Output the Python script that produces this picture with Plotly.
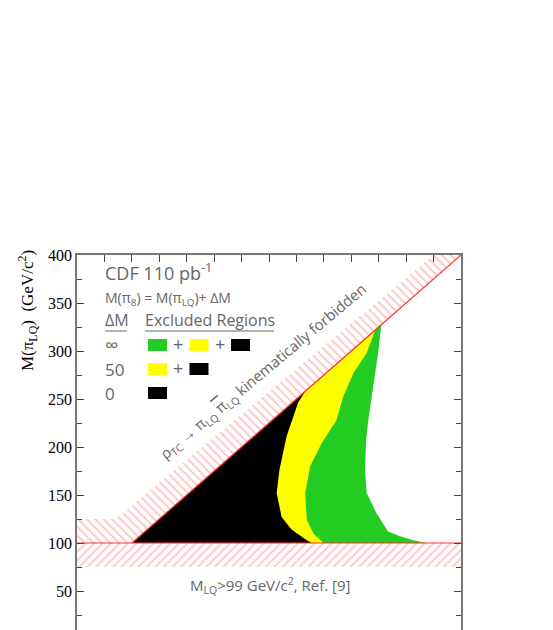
import plotly.graph_objects as go

# axis limits and ticks
x_range = [100, 800]
y_range = [9.4, 400]
y_tick_vals = [50, 100, 150, 200, 250, 300, 350, 400]
y_minor_vals = [25, 75, 125, 175, 225, 275, 325, 375]

# kinematic limit M(pi_LQ) = M(rho_TC) / 2 and the forbidden band above it
kin_x = [200, 800]
kin_y = [100, 400]
band_up_x = [100, 200, 800, 750, 170, 100, 100]
band_up_y = [100, 100, 400, 400, 125, 125, 100]

# Ref. [9] limit band
band_lo_x = [100, 800, 800, 100, 100]
band_lo_y = [75, 75, 100, 100, 75]
limit_x = [100, 800]
limit_y = [100, 100]

# excluded regions, dM = infinity (green), 50 (yellow), 0 (black)
green_x = [200, 655, 649, 640, 631, 627, 625, 628, 646, 667, 689, 713, 737, 200]
green_y = [100, 328, 298, 263, 228, 207, 176, 152, 131, 112, 107, 103, 100, 100]
yellow_x = [200, 655, 646, 628, 604, 585, 573, 546, 525, 516, 519, 531, 549, 200]
yellow_y = [100, 328, 325, 298, 277, 252, 228, 204, 180, 152, 124, 110, 100, 100]
black_x = [200, 516, 503, 482, 469, 464, 473, 491, 519, 528, 200]
black_y = [100, 258, 246, 211, 176, 152, 127, 114, 103, 100, 100]

legend_rows = ['\u221e', '50', '0']
legend_colors = [['#22cc22', '#ffff00', '#000000'],
                 ['#ffff00', '#000000'],
                 ['#000000']]

GREY = '#666666'
FONT = 'Open Sans'
HATCH = {'fgcolor': 'rgba(255,60,60,0.65)', 'bgcolor': 'rgba(0,0,0,0)', 'size': 6, 'solidity': 0.28}

# page body has an 8px margin, so positions below are in page pixels
OFF = 8


def px_to_x(px):
    return x_range[0] + (px - 77) * (x_range[1] - x_range[0]) / 384


def py_to_y(py):
    return y_range[1] - (py - 255) * (y_range[1] - y_range[0]) / 375


fig = go.Figure()

fig.add_trace(go.Scatter(x=band_up_x, y=band_up_y, mode='lines', line={'width': 0},
                         fill='toself', fillcolor='rgba(0,0,0,0)',
                         fillpattern=dict(HATCH, shape='\\')))
fig.add_trace(go.Scatter(x=band_lo_x, y=band_lo_y, mode='lines', line={'width': 0},
                         fill='toself', fillcolor='rgba(0,0,0,0)',
                         fillpattern=dict(HATCH, shape='/')))

for xs, ys, col in [(green_x, green_y, '#22cc22'),
                    (yellow_x, yellow_y, '#ffff00'),
                    (black_x, black_y, '#000000')]:
    fig.add_trace(go.Scatter(x=xs, y=ys, mode='lines', line={'width': 0},
                             fill='toself', fillcolor=col))

fig.add_trace(go.Scatter(x=kin_x, y=kin_y, mode='lines', line={'color': '#ff3030', 'width': 1.2}))
fig.add_trace(go.Scatter(x=limit_x, y=limit_y, mode='lines', line={'color': '#ff3030', 'width': 1.2}))

annotations = []
shapes = []


def add_text(text, px, py, size=14, xanchor='left', angle=0, color=GREY, family=FONT):
    annotations.append(dict(x=px_to_x(px), y=py_to_y(py), xref='x', yref='y', text=text,
                            showarrow=False, xanchor=xanchor, yanchor='middle', textangle=angle,
                            font={'family': family, 'size': size, 'color': color}))


add_text('CDF 110 pb<sup>-1</sup>', 103, 272, size=18)
add_text('M(\u03c0<sub>8</sub>) = M(\u03c0<sub>LQ</sub>)+ \u0394M', 103, 298, size=14)
add_text('\u0394M', 103, 320, size=16)
add_text('Excluded Regions', 143, 320, size=16)
for y0, x0, x1 in [(331, 105, 127), (331, 145, 274)]:
    shapes.append(dict(type='line', xref='x', yref='y', x0=px_to_x(x0), x1=px_to_x(x1),
                       y0=py_to_y(y0), y1=py_to_y(y0), line={'color': GREY, 'width': 1}))

for i, (label, cols) in enumerate(zip(legend_rows, legend_colors)):
    cy = 345 + 24 * i
    add_text(label, 103, cy, size=19 if i == 0 else 17)
    for j, col in enumerate(cols):
        x0 = 148 + 41.5 * j
        shapes.append(dict(type='rect', xref='x', yref='y', x0=px_to_x(x0), x1=px_to_x(x0 + 19),
                           y0=py_to_y(cy + 6), y1=py_to_y(cy - 6), fillcolor=col,
                           line={'width': 0}))
        if j < len(cols) - 1:
            add_text('+', x0 + 30, cy - 1, size=18, xanchor='center')

add_text('\u03c1<sub>TC</sub> \u2192 \u03c0<sub>LQ</sub> '
         '<span style="text-decoration:overline">\u03c0</span><sub>LQ</sub> kinematically forbidden',
         263, 372, size=15, xanchor='center', angle=-40)
add_text('M<sub>LQ</sub>>99 GeV/c<sup>2</sup>, Ref. [9]', 270, 585, size=15, xanchor='center')

annotations.append(dict(x=(27 - 77) / 384, y=py_to_y(311), xref='paper', yref='y',
                        text='M(\u03c0<sub>LQ</sub>)  (GeV/c<sup>2</sup>)', showarrow=False,
                        textangle=-90, xanchor='center', yanchor='middle',
                        font={'family': 'Liberation Serif', 'size': 17, 'color': 'black'}))

fig.update_layout(
    width=553, height=630,
    margin={'l': 77 - OFF, 'r': 553 - 461 + OFF, 't': 255 - OFF, 'b': OFF},
    paper_bgcolor='white', plot_bgcolor='white',
    showlegend=False,
    annotations=annotations,
    shapes=shapes,
    xaxis={'range': x_range, 'side': 'top', 'showticklabels': False, 'showgrid': False,
           'zeroline': False, 'showline': True, 'linecolor': '#777777', 'linewidth': 1.5,
           'ticks': 'inside', 'ticklen': 7, 'tickcolor': '#444444', 'dtick': 50, 'tick0': 100},
    yaxis={'range': y_range, 'tickvals': y_tick_vals, 'showgrid': False, 'zeroline': False,
           'showline': True, 'linecolor': '#777777', 'linewidth': 1.5, 'mirror': 'ticks',
           'ticks': 'inside', 'ticklen': 7, 'tickcolor': '#444444',
           'minor': {'tickvals': y_minor_vals, 'ticks': 'inside',
                     'ticklen': 5, 'tickcolor': '#444444'},
           'tickfont': {'family': 'Liberation Serif', 'size': 16, 'color': 'black'}},
)

fig.write_html('out.html')
